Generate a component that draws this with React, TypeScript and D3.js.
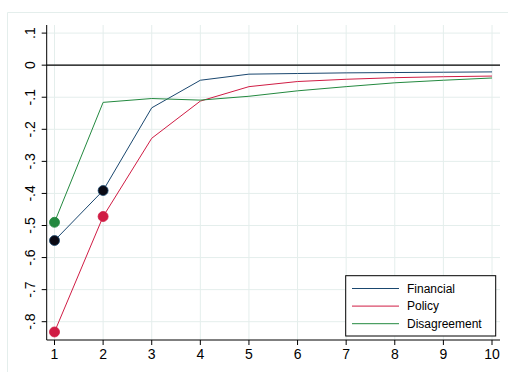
import React from "react";
import * as d3 from "d3";

const steps = [1, 2, 3, 4, 5, 6, 7, 8, 9, 10];
const financial = [-0.547, -0.391, -0.133, -0.047, -0.028, -0.026, -0.024, -0.023, -0.022, -0.021];
const policy = [-0.832, -0.472, -0.228, -0.112, -0.067, -0.051, -0.044, -0.039, -0.036, -0.034];
const disagreement = [-0.49, -0.116, -0.104, -0.109, -0.097, -0.08, -0.067, -0.055, -0.047, -0.04];
const yTicks = [0.1, 0, -0.1, -0.2, -0.3, -0.4, -0.5, -0.6, -0.7, -0.8];
const yTickLabels = [".1", "0", "-.1", "-.2", "-.3", "-.4", "-.5", "-.6", "-.7", "-.8"];
const seriesNames = ["Financial", "Policy", "Disagreement"];
const markerCounts = [2, 2, 1];

const colors = ["#1a476f", "#d01c44", "#23893f"];
const markerFill = ["#0a0a14", "#d01c44", "#23893f"];

export default function App() {
  const W = 508, H = 372;
  const x = d3.scaleLinear().domain([1, 10]).range([54.5, 492]);
  const y = d3.scaleLinear().domain([-0.8, 0.1]).range([321.7, 33.1]);
  const axL = 46.7, axR = 500, axT = 25, axB = 340;
  const data = [financial, policy, disagreement];
  const line = d3.line<number>().x((_, i) => x(steps[i])).y((d) => y(d));
  const font = "'Liberation Sans', Arial, sans-serif";
  const gridC = "#e4eeec";
  return (
    <svg width={W} height={H} style={{ position: "absolute", left: 0, top: 0, background: "#fff" }}>
      <rect x={0} y={0} width={W} height={H} fill="#fff" />
      <path d={`M7.5,${H} V12.5 H${W}`} fill="none" stroke="#e4eeec" strokeWidth={1} />
      {yTicks.map((t) => (
        <line key={"gy" + t} x1={axL} x2={axR} y1={y(t)} y2={y(t)} stroke={gridC} strokeWidth={1} />
      ))}
      {steps.map((s) => (
        <line key={"gx" + s} x1={x(s)} x2={x(s)} y1={axT} y2={axB} stroke={gridC} strokeWidth={1} />
      ))}
      <line x1={axL} x2={axR} y1={y(0)} y2={y(0)} stroke="#000" strokeWidth={1.2} />
      {data.map((d, k) => (
        <path key={"l" + k} d={line(d) || ""} fill="none" stroke={colors[k]} strokeWidth={1} />
      ))}
      {data.map((d, k) =>
        d.slice(0, markerCounts[k]).map((v, i) => (
          <circle key={"m" + k + i} cx={x(steps[i])} cy={y(v)} r={5} fill={markerFill[k]} stroke={colors[k]} strokeWidth={0.8} />
        ))
      )}
      <line x1={axL} x2={axL} y1={axT} y2={axB} stroke="#000" strokeWidth={1} />
      <line x1={axL} x2={axR} y1={axB} y2={axB} stroke="#000" strokeWidth={1} />
      {yTicks.map((t, i) => (
        <g key={"ty" + t}>
          <line x1={axL - 5} x2={axL} y1={y(t)} y2={y(t)} stroke="#000" strokeWidth={1} />
          <text
            transform={`translate(35,${y(t)}) rotate(-90)`}
            textAnchor="middle"
            fontFamily={font}
            fontSize={14}
            fill="#000"
          >
            {yTickLabels[i]}
          </text>
        </g>
      ))}
      {steps.map((s) => (
        <g key={"tx" + s}>
          <line x1={x(s)} x2={x(s)} y1={axB} y2={axB + 5} stroke="#000" strokeWidth={1} />
          <text x={x(s)} y={359} textAnchor="middle" fontFamily={font} fontSize={14} fill="#000">
            {s}
          </text>
        </g>
      ))}
      <rect x={345.7} y={275.7} width={150} height={60.3} fill="#fff" stroke="#000" strokeWidth={1} />
      {seriesNames.map((n, k) => (
        <g key={"lg" + n}>
          <line x1={352} x2={399} y1={288.5 + k * 17.6} y2={288.5 + k * 17.6} stroke={colors[k]} strokeWidth={1} />
          <text x={407} y={292.6 + k * 17.6} fontFamily={font} fontSize={12} fill="#000">
            {n}
          </text>
        </g>
      ))}
    </svg>
  );
}
